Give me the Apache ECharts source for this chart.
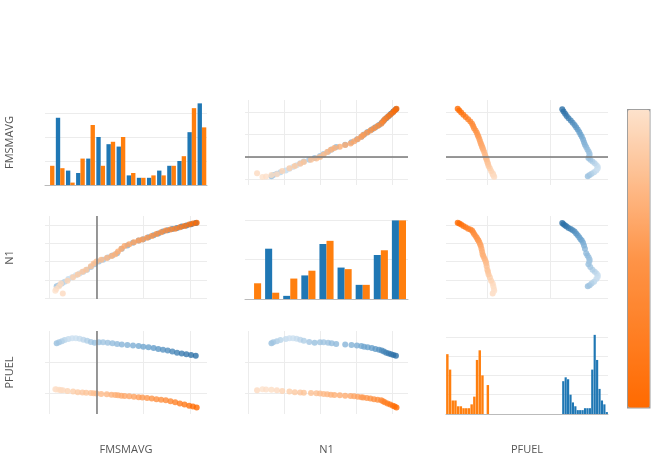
<!DOCTYPE html>
<html>
<head>
<meta charset="utf-8">
<script src="https://cdn.jsdelivr.net/npm/echarts@6/dist/echarts.min.js"></script>
<style>
html, body { margin: 0; padding: 0; background: #fff; }
#chart { width: 653px; height: 456px; }
</style>
</head>
<body>
<div id="chart"></div>
<script>
// variables of the scatter matrix (rows top->bottom, cols left->right)
const dims = ['FMSMAVG', 'N1', 'PFUEL'];

// blue group, one record per point
const blueFms = [-0.85, -0.80, -0.74, -0.68, -0.60, -0.52, -0.44, -0.36, -0.28, -0.20, -0.12, -0.04, 0.05, 0.14, 0.24, 0.34, 0.44, 0.54, 0.66, 0.78, 0.90, 1.00, 1.11, 1.22, 1.32, 1.42, 1.52, 1.62, 1.72, 1.82, 1.92, 2.02, 2.12];
const blueN1 = [33, 34, 36, 38, 41, 43, 45, 47, 49, 51, 54, 57, 60, 62, 64.5, 66.5, 69, 74, 77.5, 80.5, 83, 84.5, 86.5, 88.8, 90.8, 92.8, 94.3, 95.5, 96.8, 98.2, 99.5, 100.8, 102.2];
const bluePfuel = [3600, 3630, 3660, 3700, 3735, 3755, 3760, 3740, 3710, 3675, 3640, 3610, 3625, 3630, 3615, 3595, 3575, 3555, 3540, 3525, 3505, 3485, 3465, 3440, 3415, 3390, 3360, 3330, 3295, 3265, 3240, 3215, 3195];

// orange group
const orangeFms = [-0.72, -0.88, -0.86, -0.80, -0.76, -0.62, -0.50, -0.40, -0.30, -0.22, -0.12, -0.06, 0.00, 0.10, 0.22, 0.32, 0.40, 0.46, 0.53, 0.60, 0.70, 0.80, 0.90, 0.98, 1.08, 1.18, 1.28, 1.38, 1.48, 1.58, 1.68, 1.78, 1.88, 1.98, 2.06, 2.14];
const orangeN1 = [25, 28, 30, 33, 36, 39, 43, 46, 49, 51, 55, 58, 60, 62, 64, 66, 68, 71, 74, 77, 79, 81, 83, 84, 86, 88, 90, 92, 94, 95, 96, 97.5, 99, 100.5, 101.5, 102.5];
const orangePfuel = [2090, 2115, 2110, 2100, 2090, 2065, 2045, 2025, 2015, 2005, 1995, 1988, 1980, 1968, 1955, 1940, 1930, 1922, 1912, 1902, 1890, 1878, 1864, 1852, 1838, 1818, 1795, 1780, 1763, 1735, 1700, 1662, 1625, 1590, 1560, 1535];

// histogram counts on the diagonal
const fmsHistBlue = [0, 28, 6, 5, 11, 20, 17, 16, 4, 3, 3, 6, 8, 10, 22, 34];
const fmsHistOrange = [8, 7, 1, 11, 25, 8, 18, 20, 5, 3, 4, 4, 8, 12, 32, 24];
const n1HistBlue = [0, 32, 2, 15, 35, 20, 9, 28, 50];
const n1HistOrange = [10, 4, 13, 18, 37, 19, 9, 31, 50];
const pfuelHistOrange = [31, 23, 7, 7, 4, 4, 3, 3, 3, 5, 9, 28, 33, 20, 0, 15];
const pfuelHistBlue = [17, 19, 18, 10, 6, 4, 2, 2, 2, 3, 3, 3, 23, 41, 28, 13, 7, 5, 1];

const groups = {
    blue: { FMSMAVG: blueFms, N1: blueN1, PFUEL: bluePfuel },
    orange: { FMSMAVG: orangeFms, N1: orangeN1, PFUEL: orangePfuel }
};

// layout
const cols = [{ left: 45, width: 162 }, { left: 245, width: 163 }, { left: 446, width: 162 }];
const rows = [{ top: 100, height: 85 }, { top: 216, height: 83 }, { top: 331, height: 83 }];
const colRange = { FMSMAVG: [-1.1, 2.36], N1: [18.3, 108.9], PFUEL: [1349, 3921] };
const rowRange = { FMSMAVG: [-1.24, 2.53], N1: [19.1, 109.8], PFUEL: [1323, 3990] };
const gridTicks = { FMSMAVG: [-1, 0, 1, 2], N1: [20, 40, 60, 80, 100], PFUEL: [2000, 3000] };
const histMax = [35.4, 52.8, 43];
const histTicks = [[10, 20, 30], [25, 50], [10, 20, 30, 40]];
const pfuelOrangeBins = 60, pfuelBlueBins = 67, pfuelBlueStart = 48;

const BLUE = '#1f77b4', ORANGE = '#ff7f0e';
const gridLine = { show: true, lineStyle: { color: '#ececec', width: 1 } };
const nameStyle = { color: '#555', fontSize: 11, fontFamily: 'Open Sans' };
const hidden = { show: false };

const grid = [], xAxis = [], yAxis = [], series = [];
const blueIdx = [], orangeIdx = [];

const binNames = n => Array.from({ length: n }, (_, i) => 'b' + i);
const pad = (arr, start, n) => Array.from({ length: n }, (_, i) => (i >= start && i < start + arr.length ? arr[i - start] : null));
const points = (g, xd, yd) => g[xd].map((v, i) => [v, g[yd][i], g.PFUEL[i]]);

const zeroLine = (key) => ({
    silent: true, symbol: 'none', label: { show: false },
    lineStyle: { color: '#777', width: 1.5, type: 'solid' },
    data: [{ [key]: 0 }]
});

for (let r = 0; r < 3; r++) {
    for (let c = 0; c < 3; c++) {
        const gi = r * 3 + c;
        grid.push({ left: cols[c].left, top: rows[r].top, width: cols[c].width, height: rows[r].height });
        const xName = { name: r === 2 ? dims[c] : '', nameLocation: 'middle', nameGap: 30, nameTextStyle: nameStyle };
        const yName = { name: c === 0 ? dims[r] : '', nameLocation: 'middle', nameGap: 30, nameRotate: 90, nameTextStyle: nameStyle };

        if (r === c) {
            const nb = r === 0 ? fmsHistBlue.length : r === 1 ? n1HistBlue.length : pfuelOrangeBins;
            xAxis.push(Object.assign({
                type: 'category', gridIndex: gi, data: binNames(nb),
                axisLabel: hidden, axisTick: hidden, splitLine: hidden,
                axisLine: { show: true, lineStyle: { color: '#bbb', width: 1 } }
            }, xName));
            yAxis.push(Object.assign({
                type: 'value', gridIndex: gi, min: 0, max: histMax[r],
                axisLabel: hidden, axisTick: { show: false, customValues: histTicks[r] },
                axisLine: hidden, splitLine: gridLine
            }, yName));
            if (r === 0 || r === 1) {
                const hb = r === 0 ? fmsHistBlue : n1HistBlue;
                const ho = r === 0 ? fmsHistOrange : n1HistOrange;
                const gap = r === 0 ? '14%' : '22%';
                series.push({ type: 'bar', xAxisIndex: gi, yAxisIndex: gi, data: hb, barGap: '0%', barCategoryGap: gap, itemStyle: { color: BLUE } });
                series.push({ type: 'bar', xAxisIndex: gi, yAxisIndex: gi, data: ho, barGap: '0%', barCategoryGap: gap, itemStyle: { color: ORANGE } });
            } else {
                series.push({ type: 'bar', xAxisIndex: gi, yAxisIndex: gi, data: pad(pfuelHistOrange, 0, pfuelOrangeBins), barCategoryGap: '10%', itemStyle: { color: ORANGE } });
                series.push({ type: 'bar', xAxisIndex: 9, yAxisIndex: gi, data: pad(pfuelHistBlue, pfuelBlueStart, pfuelBlueBins), barCategoryGap: '10%', itemStyle: { color: BLUE } });
            }
        } else {
            const xd = dims[c], yd = dims[r];
            xAxis.push(Object.assign({
                type: 'value', gridIndex: gi, min: colRange[xd][0], max: colRange[xd][1],
                axisLabel: hidden, axisTick: { show: false, customValues: gridTicks[xd] },
                axisLine: hidden, splitLine: gridLine
            }, xName));
            yAxis.push(Object.assign({
                type: 'value', gridIndex: gi, min: rowRange[yd][0], max: rowRange[yd][1],
                axisLabel: hidden, axisTick: { show: false, customValues: gridTicks[yd] },
                axisLine: hidden, splitLine: gridLine
            }, yName));
            let mark;
            if (r === 0) mark = zeroLine('yAxis');
            if (c === 0) mark = zeroLine('xAxis');
            blueIdx.push(series.length);
            series.push({
                type: 'scatter', xAxisIndex: gi, yAxisIndex: gi, symbolSize: 6,
                data: points(groups.blue, xd, yd), markLine: mark
            });
            orangeIdx.push(series.length);
            series.push({
                type: 'scatter', xAxisIndex: gi, yAxisIndex: gi, symbolSize: 6,
                data: points(groups.orange, xd, yd)
            });
        }
    }
}

// second category axis for the blue PFUEL histogram bins
xAxis.push({
    type: 'category', gridIndex: 8, data: binNames(pfuelBlueBins),
    axisLabel: hidden, axisTick: hidden, splitLine: hidden, axisLine: hidden
});

const chart = echarts.init(document.getElementById('chart'));
chart.setOption({
    animation: false,
    backgroundColor: '#fff',
    grid: grid,
    xAxis: xAxis,
    yAxis: yAxis,
    visualMap: [
        {
            type: 'continuous', seriesIndex: blueIdx, dimension: 2,
            min: 3190, max: 3765, show: false,
            inRange: { color: ['#2a6ea5', '#6da4cf', '#cde1f1'] }
        },
        {
            type: 'continuous', seriesIndex: orangeIdx, dimension: 2,
            min: 1530, max: 2120, show: true, calculable: false,
            left: 627, top: 109, itemWidth: 22, itemHeight: 298,
            padding: 0, borderColor: '#999', borderWidth: 1.5,
            textStyle: { color: 'transparent' },
            inRange: { color: ['#ff6a00', '#fe9448', '#fde2cc'] }
        }
    ],
    series: series
});
</script>
</body>
</html>
